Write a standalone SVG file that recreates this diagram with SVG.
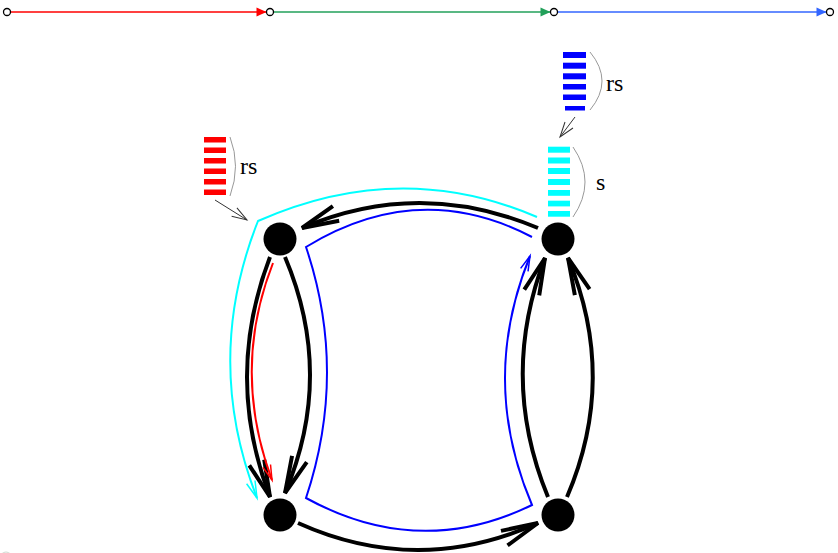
<svg xmlns="http://www.w3.org/2000/svg" width="838" height="553" viewBox="0 0 838 553">
<style>
.node{fill:#000}
.edge{fill:none;stroke:#000;stroke-width:4}
.thin{fill:none;stroke-width:2}
.br{fill:none;stroke:#999;stroke-width:1}
.ptr{fill:none;stroke:#333;stroke-width:1}
.lbl{font-family:"Liberation Serif","DejaVu Serif",serif;font-size:24px;fill:#000}
.tc{fill:#fff;stroke:#000;stroke-width:1.3}
</style>
<defs>
<marker id="ab" markerUnits="userSpaceOnUse" viewBox="-40 -12 44 24" markerWidth="44" markerHeight="24" refX="0" refY="0" orient="auto" overflow="visible">
<path d="M-37,-8 L0,0 L-37,8" fill="none" stroke="#000" stroke-width="4"/>
</marker>
<marker id="ar" markerUnits="userSpaceOnUse" viewBox="-20 -8 24 16" markerWidth="24" markerHeight="16" refX="0" refY="0" orient="auto" overflow="visible">
<path d="M-15,-4 L0,0 L-15,4" fill="none" stroke="#f00" stroke-width="1.5"/>
</marker>
<marker id="ac" markerUnits="userSpaceOnUse" viewBox="-20 -8 24 16" markerWidth="24" markerHeight="16" refX="0" refY="0" orient="auto" overflow="visible">
<path d="M-17,-4.5 L0,0 L-17,4.5" fill="none" stroke="#0ff" stroke-width="1.5"/>
</marker>
<marker id="abl" markerUnits="userSpaceOnUse" viewBox="-20 -8 24 16" markerWidth="24" markerHeight="16" refX="0" refY="0" orient="auto" overflow="visible">
<path d="M-15,-4 L0,0 L-15,4" fill="none" stroke="#00f" stroke-width="1.5"/>
</marker>
<marker id="ag" markerUnits="userSpaceOnUse" viewBox="-20 -8 24 16" markerWidth="24" markerHeight="16" refX="0" refY="0" orient="auto" overflow="visible">
<path d="M-15,-5 L0,0 L-15,5" fill="none" stroke="#333" stroke-width="1"/>
</marker>
<marker id="tr" markerUnits="userSpaceOnUse" viewBox="-12 -6 14 12" markerWidth="14" markerHeight="12" refX="0" refY="0" orient="auto" overflow="visible">
<path d="M-10,-4.5 L0,0 L-10,4.5 Z" fill="#f00"/>
</marker>
<marker id="tg" markerUnits="userSpaceOnUse" viewBox="-12 -6 14 12" markerWidth="14" markerHeight="12" refX="0" refY="0" orient="auto" overflow="visible">
<path d="M-10,-4.5 L0,0 L-10,4.5 Z" fill="#22a05a"/>
</marker>
<marker id="tb" markerUnits="userSpaceOnUse" viewBox="-12 -6 14 12" markerWidth="14" markerHeight="12" refX="0" refY="0" orient="auto" overflow="visible">
<path d="M-10,-4.5 L0,0 L-10,4.5 Z" fill="#3366ff"/>
</marker>
</defs>
<rect width="838" height="553" fill="#fff"/>

<g id="timeline">
<line x1="10.5" y1="12" x2="266.5" y2="12" stroke="#f00" stroke-width="1.5" marker-end="url(#tr)"/>
<line x1="273.5" y1="12" x2="550.5" y2="12" stroke="#22a05a" stroke-width="1.5" marker-end="url(#tg)"/>
<line x1="557.5" y1="12" x2="826.5" y2="12" stroke="#3366ff" stroke-width="1.5" marker-end="url(#tb)"/>
<circle class="tc" cx="7" cy="12" r="3.5"/>
<circle class="tc" cx="270" cy="12" r="3.5"/>
<circle class="tc" cx="554" cy="12" r="3.5"/>
<circle class="tc" cx="830" cy="12" r="3.5"/>
</g>

<g id="connectors">
<path class="edge" d="M538,228 Q419,178 302,228" marker-end="url(#ab)"/>
<path class="edge" d="M298,523 Q418,577 538,523" marker-end="url(#ab)"/>
<path class="edge" d="M270,257 Q224,377 270,497" marker-end="url(#ab)"/>
<path class="edge" d="M285,257 Q335,375 285,493" marker-end="url(#ab)"/>
<path class="edge" d="M548,497 Q499,378 545,258" marker-end="url(#ab)"/>
<path class="edge" d="M567,497 Q618,378 568,258" marker-end="url(#ab)"/>
<path class="thin" stroke="#f00" d="M273,263 Q231,370 272,480" marker-end="url(#ar)"/>
<path class="thin" stroke="#0ff" d="M537,217 Q400,158 258,221 Q203,360 257,498" marker-end="url(#ac)"/>
<path class="thin" stroke="#00f" d="M532,237 Q419,178 306,247 Q348,372 306,498 Q419,560 532,505 Q479,381 530,256" marker-end="url(#abl)"/>
<line class="ptr" x1="215" y1="200" x2="247" y2="220" marker-end="url(#ag)"/>
<line class="ptr" x1="575" y1="117" x2="560" y2="137" marker-end="url(#ag)"/>
</g>

<g id="n1"><circle class="node" cx="280" cy="239" r="16.5"/></g>
<g id="n2"><circle class="node" cx="558" cy="239" r="16.5"/></g>
<g id="n3"><circle class="node" cx="280" cy="515" r="16.5"/></g>
<g id="n4"><circle class="node" cx="558" cy="515" r="16.5"/></g>

<g id="queue-red" fill="#f00">
<rect x="204" y="137" width="22" height="5.5"/>
<rect x="204" y="147.5" width="22" height="5.5"/>
<rect x="204" y="158" width="22" height="5.5"/>
<rect x="204" y="168.5" width="22" height="5.5"/>
<rect x="204" y="179" width="22" height="5.5"/>
<rect x="204" y="189.5" width="22" height="5.5"/>
<path class="br" d="M230,137 Q241,166 230,196"/>
<text class="lbl" x="240" y="174">rs</text>
</g>

<g id="queue-blue" fill="#00f">
<rect x="563" y="52" width="23" height="6"/>
<rect x="563" y="62.7" width="23" height="6"/>
<rect x="563" y="73.3" width="23" height="6"/>
<rect x="563" y="84" width="23" height="5.5"/>
<rect x="563" y="94.5" width="23" height="5.5"/>
<rect x="565" y="106" width="20" height="4.5"/>
<path class="br" d="M590,52 Q614,81 590,110"/>
<text class="lbl" x="606" y="91">rs</text>
</g>

<g id="queue-cyan" fill="#0ff">
<rect x="548" y="146.7" width="22" height="6"/>
<rect x="548" y="157.5" width="22" height="6"/>
<rect x="548" y="168" width="22" height="6"/>
<rect x="548" y="179" width="22" height="6"/>
<rect x="548" y="190" width="22" height="5.8"/>
<rect x="548" y="200.7" width="22" height="5.7"/>
<rect x="548" y="211" width="22" height="5.7"/>
<path class="br" d="M573,147 Q597,182 573,217"/>
<text class="lbl" x="596" y="190">s</text>
</g>

<g id="corner-mark">
<circle cx="6" cy="558" r="6" fill="none" stroke="#cfd8cf" stroke-width="1"/>
</g>
</svg>
